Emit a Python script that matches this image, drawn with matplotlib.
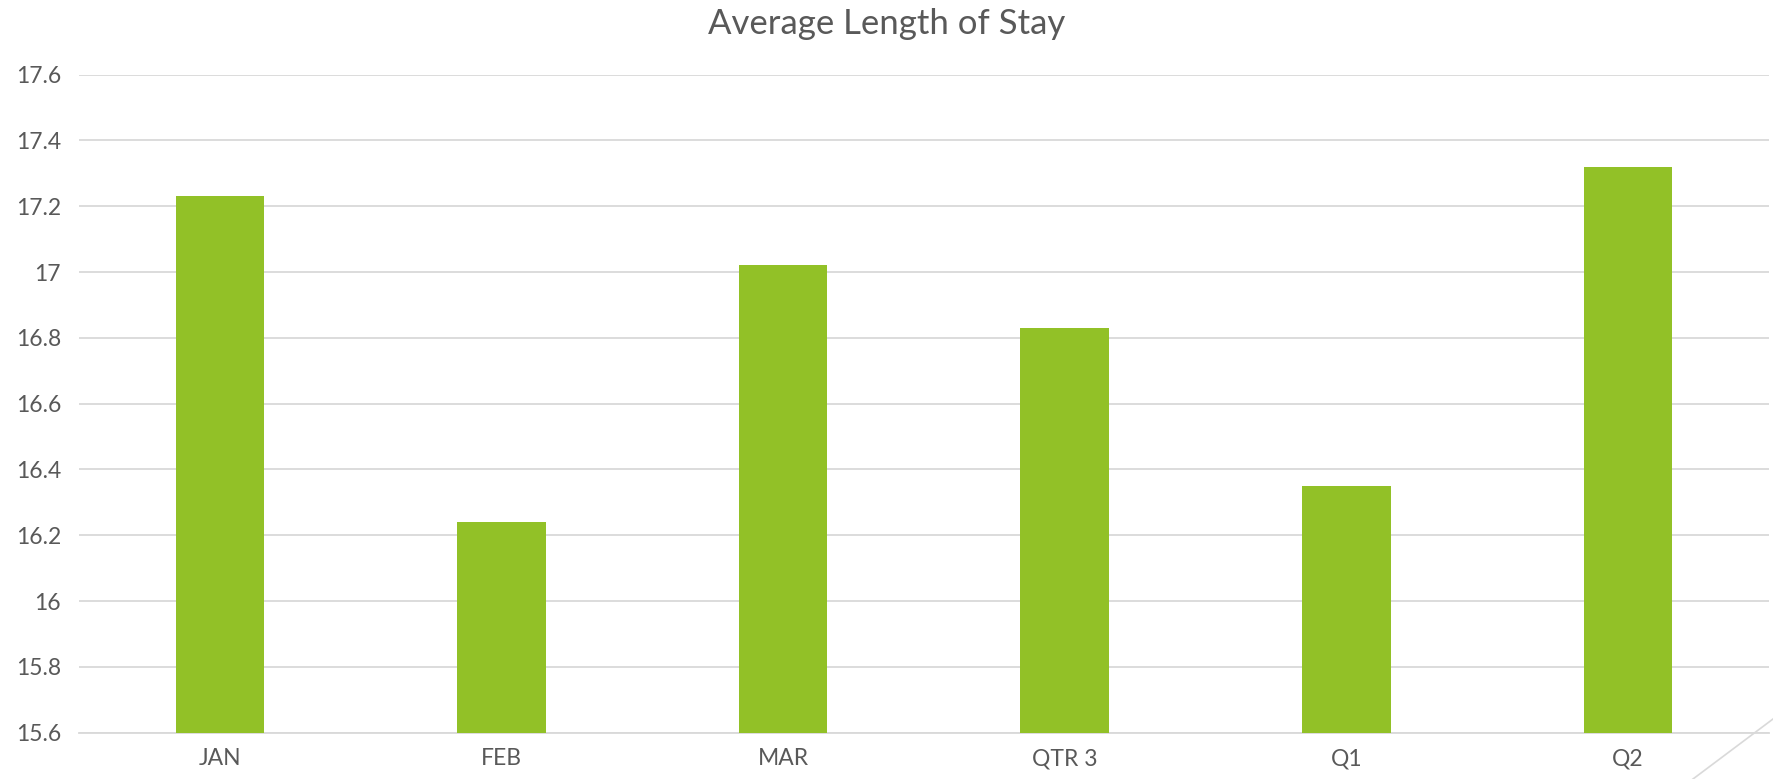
import matplotlib.pyplot as plt
from matplotlib.lines import Line2D

categories = ['JAN', 'FEB', 'MAR', 'QTR 3', 'Q1', 'Q2']
avg_stay = [17.23, 16.24, 17.02, 16.83, 16.35, 17.32]
y_ticks = [15.6, 15.8, 16, 16.2, 16.4, 16.6, 16.8, 17, 17.2, 17.4, 17.6]
y_labels = ['15.6', '15.8', '16', '16.2', '16.4', '16.6', '16.8', '17', '17.2', '17.4', '17.6']

text_color = '#595959'
grid_color = '#D9D9D9'
bar_color = '#92C127'

plt.rcParams['font.family'] = ['Lato', 'DejaVu Sans']

fig = plt.figure(figsize=(17.73, 7.79), dpi=100)
ax = fig.add_axes([0.0446, 0.0594, 0.953, 0.8448])

x = range(len(categories))
ax.bar(x, avg_stay, width=0.315, color=bar_color, zorder=3)

ax.set_xlim(-0.5, len(categories) - 0.5)
ax.set_ylim(15.6, 17.6)
ax.set_yticks(y_ticks)
ax.set_yticklabels(y_labels)
ax.set_xticks(list(x))
ax.set_xticklabels(categories)

ax.grid(axis='y', color=grid_color, linewidth=1.3, zorder=0)
for side in ['top', 'right', 'left']:
    ax.spines[side].set_visible(False)
ax.spines['bottom'].set_color(grid_color)
ax.spines['bottom'].set_linewidth(1.3)
ax.tick_params(axis='both', length=0, colors=text_color, labelsize=16.5)
ax.tick_params(axis='y', pad=13)
ax.tick_params(axis='x', pad=11)

fig.suptitle('Average Length of Stay', fontsize=25, color=text_color, y=0.99, va='top')

# floor edge decoration at bottom right
fig.add_artist(Line2D([1693 / 1773, 1.0], [0.0, 1 - 719 / 779],
                      transform=fig.transFigure, color=grid_color, linewidth=1.2))

fig.savefig('out.png', dpi=100, facecolor='white')
